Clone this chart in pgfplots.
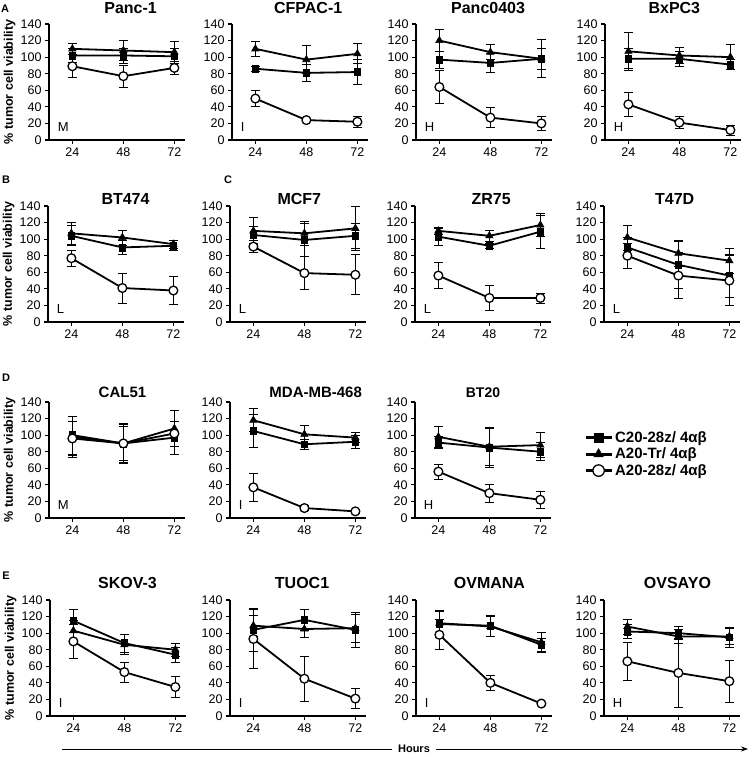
\documentclass[border=0pt]{standalone}
\usepackage{fontspec}
\setmainfont{Liberation Sans}
\usepackage{pgfplots}
\pgfplotsset{compat=1.18}
\usetikzlibrary{arrows.meta}

\tikzset{tag/.style={anchor=base west, font=\fontsize{13}{13}\selectfont}}

\pgfplotsset{
  errs/.style={error bars/.cd, y dir=both, y explicit,
    error bar style={line width=0.8pt, black},
    error mark options={rotate=90, mark size=4.5pt, line width=0.8pt, black}},
  sq/.style={black, line width=1.8pt, mark=square*, mark size=3.4pt,
    mark options={solid, fill=black, line width=0.6pt}, errs},
  tr/.style={black, line width=1.8pt, mark=triangle*, mark size=4.2pt,
    mark options={solid, fill=black, line width=0.6pt}, errs},
  ci/.style={black, line width=1.8pt, mark=*, mark size=4.4pt,
    mark options={solid, fill=white, line width=1.3pt}, errs},
  panel/.style={
    scale only axis, width=136pt, height=116pt, anchor=south west,
    axis lines=left, axis line style={-, line width=1.2pt},
    xmin=13, xmax=77, ymin=0, ymax=140,
    xtick={24,48,72}, ytick={0,20,...,140},
    tick align=outside, major tick length=4pt,
    tick style={line width=1.1pt, black},
    ticklabel style={font=\fontsize{12.5}{13}\selectfont},
    /pgf/number format/assume math mode=true,
    every axis title shift=0pt,
    title style={font=\bfseries\fontsize{16}{16}\selectfont, anchor=base},
    ylabel style={at={(axis description cs:-0.29,0.5)}, anchor=center,
      font=\bfseries\fontsize{12.5}{13}\selectfont},
    clip=false,
  },
}

\begin{document}
\begin{tikzpicture}
\useasboundingbox (0pt,0pt) rectangle (754pt,758pt);

% ---- row A
\begin{axis}[panel, at={(49pt,618pt)}, title=Panc-1,
  title style={at={(0.60,1)}, yshift=10pt}, ylabel={\% tumor cell viability}]
\addplot[sq] coordinates {(24,102) +- (0,8) (48,102) +- (0,9) (72,101) +- (0,9)};
\addplot[tr] coordinates {(24,110) +- (0,7) (48,108) +- (0,12) (72,106) +- (0,13)};
\addplot[ci] coordinates {(24,89) +- (0,14) (48,77) +- (0,13) (72,87) +- (0,8)};
\node[tag] at (axis cs:15.5,10) {M};
\end{axis}

\begin{axis}[panel, at={(232pt,618pt)}, title=CFPAC-1,
  title style={at={(0.56,1)}, yshift=10pt}]
\addplot[sq] coordinates {(24,86) +- (0,3) (48,81) +- (0,10) (72,82) +- (0,15)};
\addplot[tr] coordinates {(24,110) +- (0,9) (48,97) +- (0,17) (72,104) +- (0,12)};
\addplot[ci] coordinates {(24,50) +- (0,10) (48,24) +- (0,2) (72,22) +- (0,7)};
\node[tag] at (axis cs:15.5,10) {I};
\end{axis}

\begin{axis}[panel, at={(416pt,618pt)}, title=Panc0403,
  title style={at={(0.53,1)}, yshift=10pt}]
\addplot[sq] coordinates {(24,97) +- (0,10) (48,93) +- (0,12) (72,98) +- (0,13)};
\addplot[tr] coordinates {(24,120) +- (0,13) (48,106) +- (0,9) (72,98) +- (0,23)};
\addplot[ci] coordinates {(24,64) +- (0,20) (48,27) +- (0,12) (72,20) +- (0,8)};
\node[tag] at (axis cs:15.5,10) {H};
\end{axis}

\begin{axis}[panel, at={(605pt,618pt)}, title=BxPC3,
  title style={at={(0.51,1)}, yshift=10pt}]
\addplot[sq] coordinates {(24,98) +- (0,12) (48,98) +- (0,9) (72,91) +- (0,6)};
\addplot[tr] coordinates {(24,107) +- (0,23) (48,102) +- (0,10) (72,100) +- (0,15)};
\addplot[ci] coordinates {(24,43) +- (0,15) (48,21) +- (0,7) (72,12) +- (0,6)};
\node[tag] at (axis cs:15.5,10) {H};
\end{axis}

% ---- row B/C
\begin{axis}[panel, at={(48pt,436pt)}, title=BT474,
  title style={at={(0.57,1)}, yshift=1pt}, ylabel={\% tumor cell viability}]
\addplot[sq] coordinates {(24,104) +- (0,12) (48,90) +- (0,8) (72,92) +- (0,6)};
\addplot[tr] coordinates {(24,107) +- (0,13) (48,102) +- (0,9) (72,94) +- (0,5)};
\addplot[ci] coordinates {(24,77) +- (0,10) (48,41) +- (0,18) (72,38) +- (0,17)};
\node[tag] at (axis cs:15.5,10) {L};
\end{axis}

\begin{axis}[panel, at={(230pt,436pt)}, title=MCF7,
  title style={at={(0.51,1)}, yshift=1pt}]
\addplot[sq] coordinates {(24,105) +- (0,10) (48,99) +- (0,20) (72,104) +- (0,15)};
\addplot[tr] coordinates {(24,110) +- (0,16) (48,107) +- (0,15) (72,113) +- (0,26)};
\addplot[ci] coordinates {(24,91) +- (0,7) (48,59) +- (0,20) (72,57) +- (0,24)};
\node[tag] at (axis cs:15.5,10) {L};
\end{axis}

\begin{axis}[panel, at={(415pt,436pt)}, title=ZR75,
  title style={at={(0.56,1)}, yshift=1pt}]
\addplot[sq] coordinates {(24,103) +- (0,10) (48,92) +- (0,3) (72,109) +- (0,20)};
\addplot[tr] coordinates {(24,110) +- (0,4) (48,104) +- (0,7) (72,117) +- (0,14)};
\addplot[ci] coordinates {(24,56) +- (0,16) (48,29) +- (0,15) (72,29) +- (0,6)};
\node[tag] at (axis cs:15.5,10) {L};
\end{axis}

\begin{axis}[panel, at={(604pt,436pt)}, title=T47D,
  title style={at={(0.52,1)}, yshift=1pt}]
\addplot[sq] coordinates {(24,90) +- (0,12) (48,69) +- (0,28) (72,56) +- (0,26)};
\addplot[tr] coordinates {(24,102) +- (0,15) (48,83) +- (0,16) (72,74) +- (0,15)};
\addplot[ci] coordinates {(24,80) +- (0,15) (48,56) +- (0,28) (72,50) +- (0,30)};
\node[tag] at (axis cs:15.5,10) {L};
\end{axis}

% ---- row D
\begin{axis}[panel, at={(49pt,240pt)}, title=CAL51,
  title style={at={(0.54,1)}, yshift=4pt, font=\bfseries\fontsize{15}{15}\selectfont},
  ylabel={\% tumor cell viability}]
\addplot[sq] coordinates {(24,100) +- (0,23) (48,90) +- (0,23) (72,97) +- (0,20)};
\addplot[tr] coordinates {(24,98) +- (0,25) (48,90) +- (0,24) (72,108) +- (0,22)};
\addplot[ci] coordinates {(24,96) +- (0,20) (48,90) +- (0,21) (72,102) +- (0,15)};
\node[tag] at (axis cs:15.5,10) {M};
\end{axis}

\begin{axis}[panel, at={(230pt,240pt)}, title=MDA-MB-468,
  title style={at={(0.63,1)}, yshift=4pt, font=\bfseries\fontsize{15}{15}\selectfont}]
\addplot[sq] coordinates {(24,105) +- (0,20) (48,89) +- (0,6) (72,92) +- (0,8)};
\addplot[tr] coordinates {(24,118) +- (0,14) (48,101) +- (0,11) (72,97) +- (0,6)};
\addplot[ci] coordinates {(24,37) +- (0,17) (48,12) +- (0,3) (72,8) +- (0,2)};
\node[tag] at (axis cs:15.5,10) {I};
\end{axis}

\begin{axis}[panel, at={(415pt,240pt)}, title=BT20,
  title style={at={(0.50,1)}, yshift=4pt, font=\bfseries\fontsize{14}{14}\selectfont},
  legend style={at={(1.22,0.55)}, anchor=west, draw=none, fill=none,
    font=\bfseries\fontsize{15}{15}\selectfont, row sep=0pt},
  legend cell align=left,
  legend image code/.code={\draw[mark repeat=2,mark phase=2,#1,
      line width=3pt, every mark/.append style={scale=1.3}]
    plot coordinates {(0pt,0pt)(13pt,0pt)(26pt,0pt)};}]
\addplot[sq] coordinates {(24,91) +- (0,7) (48,85) +- (0,24) (72,80) +- (0,11)};
\addplot[tr] coordinates {(24,98) +- (0,13) (48,86) +- (0,22) (72,88) +- (0,15)};
\addplot[ci] coordinates {(24,56) +- (0,9) (48,30) +- (0,11) (72,22) +- (0,10)};
\node[tag] at (axis cs:15.5,10) {H};
\legend{C20-28z/ 4αβ, A20-Tr/ 4αβ, A20-28z/ 4αβ}
\end{axis}

% ---- row E
\begin{axis}[panel, at={(50pt,42pt)}, title=SKOV-3,
  title style={at={(0.57,1)}, yshift=11pt}, ylabel={\% tumor cell viability}]
\addplot[sq] coordinates {(24,115) +- (0,14) (48,88) +- (0,11) (72,74) +- (0,9)};
\addplot[tr] coordinates {(24,103) +- (0,12) (48,86) +- (0,12) (72,80) +- (0,8)};
\addplot[ci] coordinates {(24,90) +- (0,21) (48,53) +- (0,12) (72,35) +- (0,13)};
\node[tag] at (axis cs:15.5,10) {I};
\end{axis}

\begin{axis}[panel, at={(230pt,42pt)}, title=TUOC1,
  title style={at={(0.53,1)}, yshift=11pt}]
\addplot[sq] coordinates {(24,104) +- (0,26) (48,116) +- (0,13) (72,104) +- (0,21)};
\addplot[tr] coordinates {(24,109) +- (0,13) (48,105) +- (0,10) (72,106) +- (0,17)};
\addplot[ci] coordinates {(24,93) +- (0,36) (48,45) +- (0,27) (72,21) +- (0,12)};
\node[tag] at (axis cs:15.5,10) {I};
\end{axis}

\begin{axis}[panel, at={(416pt,42pt)}, title=OVMANA,
  title style={at={(0.54,1)}, yshift=11pt}]
\addplot[sq] coordinates {(24,111) +- (0,16) (48,109) +- (0,13) (72,86) +- (0,8)};
\addplot[tr] coordinates {(24,112) +- (0,14) (48,108) +- (0,12) (72,89) +- (0,12)};
\addplot[ci] coordinates {(24,98) +- (0,18) (48,40) +- (0,9) (72,15) +- (0,2)};
\node[tag] at (axis cs:15.5,10) {I};
\end{axis}

\begin{axis}[panel, at={(604pt,42pt)}, title=OVSAYO,
  title style={at={(0.54,1)}, yshift=11pt}]
\addplot[sq] coordinates {(24,102) +- (0,8) (48,100) +- (0,8) (72,95) +- (0,12)};
\addplot[tr] coordinates {(24,108) +- (0,9) (48,96) +- (0,8) (72,96) +- (0,10)};
\addplot[ci] coordinates {(24,66) +- (0,23) (48,52) +- (0,42) (72,42) +- (0,25)};
\node[tag] at (axis cs:15.5,10) {H};
\end{axis}

% panel letters
\begin{scope}[every node/.style={font=\bfseries\fontsize{11}{11}\selectfont}]
\node at (5pt,749pt) {A};
\node at (6pt,578pt) {B};
\node at (228pt,578pt) {C};
\node at (6pt,380pt) {D};
\node at (6pt,182pt) {E};
\end{scope}

% time arrow
\draw[line width=0.8pt, -{Stealth[length=7pt,width=5pt]}] (62pt,9pt) -- (748pt,9pt);
\node[fill=white, inner xsep=6pt, font=\bfseries\fontsize{11}{11}\selectfont] at (414pt,9pt) {Hours};
\end{tikzpicture}
\end{document}
